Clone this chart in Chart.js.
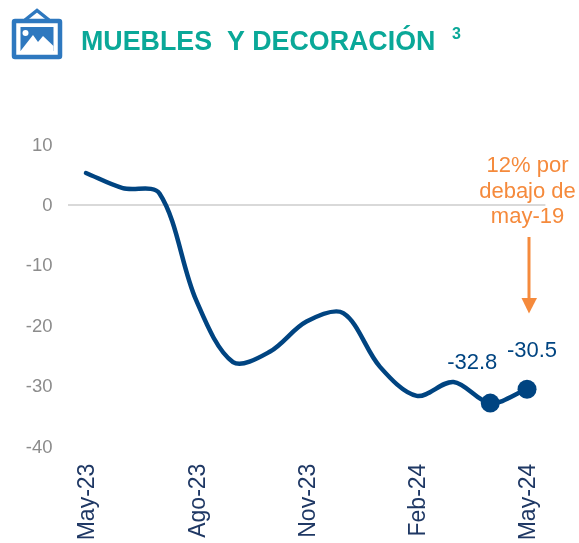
<!DOCTYPE html>
<html>
<head>
<meta charset="utf-8">
<style>
  html, body { margin: 0; padding: 0; background: #fff; overflow: hidden; }
  #wrap { position: relative; width: 579px; height: 543px; }
  #chart-canvas { position: absolute; left: 0; top: 0; }
  #icon { position: absolute; left: 0; top: 0; }
</style>
</head>
<body>
<div id="wrap">
  <canvas id="chart-canvas" width="579" height="543"></canvas>
  <svg id="icon" width="70" height="65" viewBox="0 0 70 65">
    <path d="M25 20 L37 10.5 L49 20" fill="none" stroke="#2e78bf" stroke-width="3.5"/>
    <rect x="14" y="21" width="46" height="36" rx="1" fill="#fff" stroke="#2e78bf" stroke-width="4.5"/>
    <rect x="20.5" y="27" width="33" height="24" fill="#2e78bf"/>
    <path d="M20.5 51 L33 35 L38 42 L43 36 L53.5 46 L53.5 51 Z" fill="#fff"/>
    <circle cx="25.5" cy="33" r="3" fill="#fff"/>
  </svg>
</div>
<script src="https://cdn.jsdelivr.net/npm/chart.js@4/dist/chart.umd.min.js"></script>
<script>
var months = ["May-23", "Jun-23", "Jul-23", "Ago-23", "Sep-23", "Oct-23", "Nov-23", "Dic-23", "Ene-24", "Feb-24", "Mar-24", "Abr-24", "May-24"];
var shownMonths = ["May-23", "Ago-23", "Nov-23", "Feb-24", "May-24"];
var values = [5.3, 2.8, 1.9, -15.8, -26, -24.3, -19.3, -17.9, -26.8, -31.6, -29.3, -32.8, -30.5];
var yTicks = [10, 0, -10, -20, -30, -40];
var noteLines = ["12% por", "debajo de", "may-19"];

// texts, value labels and arrow drawn on top of the chart
var notesPlugin = {
  id: "notes",
  afterDatasetsDraw: function (chart) {
    var ctx = chart.ctx;
    var meta = chart.getDatasetMeta(0).data;
    var last = meta[meta.length - 1];
    var prev = meta[meta.length - 2];
    ctx.save();

    ctx.textBaseline = "alphabetic";
    ctx.textAlign = "left";
    ctx.fillStyle = "#0aa898";
    ctx.font = "bold 26.8px 'Liberation Sans'";
    ctx.fillText("MUEBLES  Y DECORACIÓN", 81, 49.5);
    ctx.font = "bold 16px 'Liberation Sans'";
    ctx.fillText("3", 452, 39);

    ctx.textAlign = "center";
    ctx.fillStyle = "#004481";
    ctx.font = "22px 'Liberation Sans'";
    ctx.fillText(String(values[values.length - 2]), prev.x - 18, prev.y - 34);
    ctx.fillText(String(values[values.length - 1]), last.x + 5, last.y - 32);

    ctx.fillStyle = "#f58a3c";
    ctx.font = "22px 'Liberation Sans'";
    noteLines.forEach(function (line, i) {
      ctx.fillText(line, 527.5, 172 + i * 25.5);
    });

    ctx.strokeStyle = "#f58a3c";
    ctx.lineWidth = 3;
    ctx.beginPath();
    ctx.moveTo(529, 237);
    ctx.lineTo(529, 300);
    ctx.stroke();
    ctx.beginPath();
    ctx.moveTo(521.5, 298);
    ctx.lineTo(537, 298);
    ctx.lineTo(529, 313.5);
    ctx.closePath();
    ctx.fill();

    ctx.restore();
  },
};

new Chart(document.getElementById("chart-canvas"), {
  type: "line",
  plugins: [notesPlugin],
  data: {
    labels: months,
    datasets: [
      {
        data: values,
        borderColor: "#004481",
        backgroundColor: "#004481",
        borderWidth: 4.5,
        tension: 0.33,
        borderCapStyle: "round",
        clip: false,
        pointRadius: values.map(function (v, i) {
          return i >= values.length - 2 ? 9.5 : 0;
        }),
        pointBorderWidth: 0,
      },
    ],
  },
  options: {
    responsive: false,
    animation: false,
    layout: { padding: { left: 0, top: 144.6, right: 33.6, bottom: 0 } },
    plugins: { legend: { display: false }, title: { display: false }, tooltip: { enabled: false } },
    scales: {
      x: {
        offset: true,
        border: { display: false },
        grid: { display: false, drawTicks: false },
        afterFit: function (axis) {
          axis.height = 96.4;
        },
        ticks: {
          autoSkip: false,
          minRotation: 90,
          maxRotation: 90,
          padding: 17,
          labelOffset: 2,
          color: "#1f3864",
          font: { family: "Liberation Sans", size: 23 },
          callback: function (value) {
            var label = this.getLabelForValue(value);
            return shownMonths.indexOf(label) >= 0 ? label : "";
          },
        },
      },
      y: {
        min: -40,
        max: 10,
        border: { display: false },
        grid: {
          drawTicks: false,
          lineWidth: 2,
          color: function (c) {
            return c.tick.value === 0 ? "#d9d9d9" : "transparent";
          },
        },
        afterFit: function (axis) {
          axis.width = 67.6;
        },
        afterBuildTicks: function (axis) {
          axis.ticks = yTicks.map(function (v) {
            return { value: v };
          });
        },
        ticks: {
          padding: 15,
          labelOffset: 1,
          color: "#8c8c8c",
          font: { family: "Liberation Sans", size: 18.5 },
        },
      },
    },
  },
});
</script>
</body>
</html>
